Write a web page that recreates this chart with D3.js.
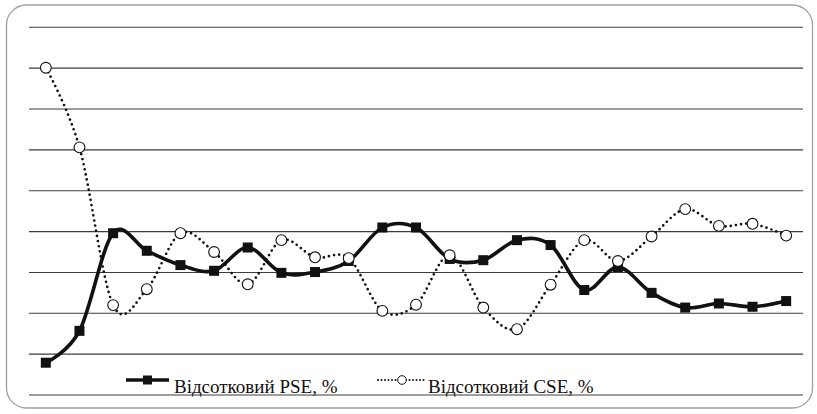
<!DOCTYPE html>
<html>
<head>
<meta charset="utf-8">
<script src="https://cdn.jsdelivr.net/npm/d3@7"></script>
<style>
  html, body { margin: 0; padding: 0; background: #fff; }
  svg { display: block; }
</style>
</head>
<body>
<svg id="chart" width="817" height="414"></svg>
<script>
// Period index (unlabelled on the chart)
const periods = d3.range(1, 24);

// Відсотковий PSE, %
const pseValues = [7.9, 15.7, 39.6, 35.3, 31.8, 30.4, 36.1, 29.9, 30.1, 32.8, 41.0, 41.0,
                   33.3, 33.0, 37.9, 36.7, 25.7, 31.3, 25.0, 21.4, 22.4, 21.6, 23.0];

// Відсотковий CSE, %
const cseValues = [80.1, 60.6, 22.0, 25.9, 39.6, 35.0, 27.1, 37.9, 33.7, 33.5, 20.6, 22.1,
                   34.2, 21.4, 16.1, 27.0, 37.9, 32.8, 38.8, 45.5, 41.4, 41.9, 39.0];

// Horizontal grid values
const gridTicks = [0, 10, 20, 30, 40, 50, 60, 70, 80, 90];

const seriesNames = ["Відсотковий PSE, %", "Відсотковий CSE, %"];

const svg = d3.select("#chart");

// Rounded outer frame
svg.append("rect")
  .attr("x", 6.5).attr("y", 5)
  .attr("width", 806).attr("height", 403)
  .attr("rx", 20).attr("ry", 20)
  .attr("fill", "#fff")
  .attr("stroke", "#a0a0a0")
  .attr("stroke-width", 1.3);

const x = d3.scaleBand().domain(periods).range([29, 803]);
const y = d3.scaleLinear().domain([0, 90]).range([395, 27.3]);
const cx = d => x(d) + x.bandwidth() / 2;

// Gridlines
svg.append("g")
  .selectAll("line")
  .data(gridTicks)
  .join("line")
  .attr("x1", 29).attr("x2", 803)
  .attr("y1", d => y(d)).attr("y2", d => y(d))
  .attr("stroke", "#3c3c3c")
  .attr("stroke-width", 1.1);

const pse = periods.map((p, i) => [cx(p), y(pseValues[i])]);
const cse = periods.map((p, i) => [cx(p), y(cseValues[i])]);

const smooth = d3.line().curve(d3.curveCatmullRom.alpha(0));

// CSE: dotted smoothed line with hollow circles
svg.append("path")
  .attr("d", smooth(cse))
  .attr("fill", "none")
  .attr("stroke", "#111")
  .attr("stroke-width", 2.7)
  .attr("stroke-linecap", "round")
  .attr("stroke-dasharray", "0 5.2");

// PSE: solid thick smoothed line with filled squares
svg.append("path")
  .attr("d", smooth(pse))
  .attr("fill", "none")
  .attr("stroke", "#111")
  .attr("stroke-width", 3.6)
  .attr("stroke-linejoin", "round");

svg.append("g")
  .selectAll("rect")
  .data(pse)
  .join("rect")
  .attr("x", d => d[0] - 5).attr("y", d => d[1] - 5)
  .attr("width", 10).attr("height", 10)
  .attr("fill", "#111");

svg.append("g")
  .selectAll("circle")
  .data(cse)
  .join("circle")
  .attr("cx", d => d[0]).attr("cy", d => d[1])
  .attr("r", 5.4)
  .attr("fill", "#fff")
  .attr("stroke", "#111")
  .attr("stroke-width", 1.1);

// Legend
const legend = svg.append("g")
  .style("font-family", "'Liberation Serif', 'Times New Roman', Times, serif")
  .style("font-size", "19px")
  .attr("fill", "#111");

const lg1 = legend.append("g").attr("transform", "translate(126,380)");
lg1.append("line").attr("x1", 0).attr("x2", 43).attr("stroke", "#111").attr("stroke-width", 3.6);
lg1.append("rect").attr("x", 17).attr("y", -4.5).attr("width", 9).attr("height", 9).attr("fill", "#111");
lg1.append("text").attr("x", 48).attr("y", 13).text(seriesNames[0]);

const lg2 = legend.append("g").attr("transform", "translate(377,380)");
lg2.append("line").attr("x1", 1).attr("x2", 48).attr("stroke", "#111").attr("stroke-width", 2)
  .attr("stroke-linecap", "round").attr("stroke-dasharray", "0 3.5");
lg2.append("circle").attr("cx", 25).attr("cy", 0).attr("r", 4.3)
  .attr("fill", "#fff").attr("stroke", "#111").attr("stroke-width", 1);
lg2.append("text").attr("x", 51).attr("y", 13).text(seriesNames[1]);
</script>
</body>
</html>
